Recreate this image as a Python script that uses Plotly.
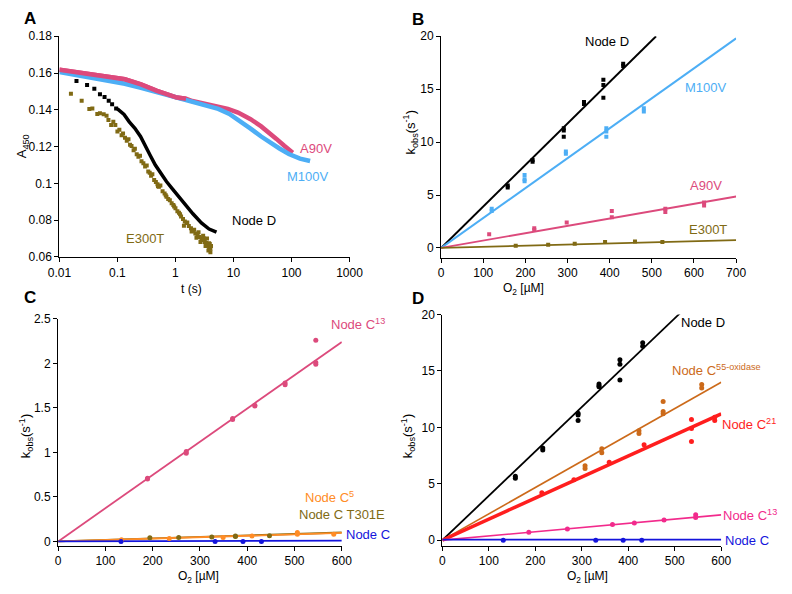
import plotly.graph_objects as go

# ---------------- Panel A data (t in s, A450) ----------------
a90v_t = [0.01, 0.0197, 0.0373, 0.0706, 0.134, 0.254, 0.48, 1.06, 1.52, 1.95, 3.7, 5.47, 8.0, 12.0, 19.7, 30.0, 42.0, 55.0, 75.0, 105.0]
a90v_A = [0.1618, 0.1605, 0.1593, 0.1582, 0.1566, 0.1538, 0.1503, 0.1467, 0.1460, 0.1448, 0.1428, 0.1419, 0.1405, 0.1385, 0.1349, 0.1310, 0.1275, 0.1242, 0.1205, 0.1167]

m100v_t = [0.01, 0.0197, 0.0373, 0.0706, 0.134, 0.254, 0.48, 1.06, 1.52, 2.5, 3.7, 5.47, 8.5, 13.0, 19.7, 30.0, 45.0, 62.0, 90.0, 140.0, 209.0]
m100v_A = [0.1605, 0.1590, 0.1573, 0.1556, 0.1542, 0.1520, 0.1496, 0.1467, 0.1455, 0.1435, 0.1422, 0.1405, 0.1378, 0.1340, 0.1298, 0.1255, 0.1215, 0.1190, 0.1160, 0.1135, 0.1122]

noded_dot_t = [0.0197, 0.030, 0.040, 0.050, 0.060, 0.0708, 0.081, 0.095]
noded_dot_A = [0.1557, 0.1535, 0.1515, 0.1485, 0.1470, 0.1450, 0.1430, 0.1407]
noded_t = [0.1, 0.13, 0.16, 0.2, 0.25, 0.3, 0.37, 0.45, 0.55, 0.7, 0.9, 1.1, 1.4, 2.0, 2.8, 3.8, 5.1]
noded_A = [0.1405, 0.1375, 0.1335, 0.1300, 0.1255, 0.1210, 0.1150, 0.1100, 0.1055, 0.1010, 0.0968, 0.0935, 0.0890, 0.0835, 0.0785, 0.0752, 0.0735]

e300t_t = [0.0158, 0.0242, 0.0328, 0.037, 0.045, 0.05, 0.058, 0.065, 0.07, 0.078, 0.085, 0.092, 0.1, 0.108,
           0.118, 0.125, 0.135, 0.145, 0.155, 0.165, 0.175, 0.19, 0.2, 0.215, 0.23, 0.245, 0.26, 0.28, 0.3,
           0.32, 0.34, 0.36, 0.38, 0.4, 0.43, 0.46, 0.49, 0.52, 0.55, 0.6, 0.65, 0.7, 0.75, 0.8, 0.86, 0.92,
           1.0, 1.08, 1.15, 1.25, 1.35, 1.45, 1.55, 1.7, 1.85, 2.0, 2.2, 2.4, 2.6, 2.8, 3.0, 3.2, 3.4, 3.6,
           3.8, 4.0, 3.9, 3.5, 3.0, 2.5, 4.1, 3.7, 2.1, 1.6, 1.2, 0.95, 0.68, 0.5,
           2.3, 2.7, 3.3, 3.8, 4.0, 1.9, 1.4, 3.1]
e300t_A = [0.1487, 0.1450, 0.1405, 0.1408, 0.1378, 0.1382, 0.1376, 0.1368, 0.1345, 0.1318, 0.1335, 0.1318, 0.1282, 0.1292,
           0.1262, 0.1272, 0.1248, 0.1232, 0.1240, 0.1210, 0.1203, 0.1180, 0.1188, 0.1158, 0.1145, 0.1150, 0.1120, 0.1110, 0.1092,
           0.1098, 0.1065, 0.1058, 0.1042, 0.1050, 0.1018, 0.1008, 0.0995, 0.0982, 0.0988, 0.0958, 0.0945, 0.0928, 0.0915, 0.0908, 0.0892, 0.0882,
           0.0865, 0.0848, 0.0840, 0.0820, 0.0806, 0.0793, 0.0785, 0.0768, 0.0756, 0.0742, 0.0728, 0.0720, 0.0708, 0.0700, 0.0692, 0.0682, 0.0676, 0.0662,
           0.0652, 0.0645, 0.0670, 0.0700, 0.0715, 0.0735, 0.0660, 0.0635, 0.0748, 0.0788, 0.0832, 0.0875, 0.0935, 0.0985,
           0.0705, 0.0682, 0.0660, 0.0675, 0.0625, 0.0738, 0.0770, 0.0700]

# ---------------- Panel B data (O2 uM, kobs s^-1) ----------------
b_noded_x = [158, 158, 217, 217, 291, 291, 291, 339, 339, 385, 385, 385, 432, 432]
b_noded_y = [5.7, 5.9, 8.15, 8.3, 11.1, 10.5, 11.3, 13.8, 13.6, 15.9, 15.4, 14.2, 17.4, 17.2]
b_noded_fit_x = [0, 510]
b_noded_fit_y = [0, 20.0]

b_m100v_x = [120, 120, 198, 198, 198, 296, 296, 392, 392, 392, 481, 481]
b_m100v_y = [3.7, 3.5, 6.9, 6.5, 6.3, 8.9, 9.1, 11.3, 11.0, 10.5, 13.2, 12.9]
b_m100v_fit_x = [0, 700]
b_m100v_fit_y = [0, 19.8]

b_a90v_x = [114, 221, 221, 298, 405, 405, 532, 532, 624, 624]
b_a90v_y = [1.3, 1.85, 1.7, 2.4, 3.5, 2.9, 3.7, 3.4, 4.3, 4.0]
b_a90v_fit_x = [0, 700]
b_a90v_fit_y = [0, 4.86]

b_e300t_x = [177, 254, 317, 389, 460, 525]
b_e300t_y = [0.2, 0.3, 0.4, 0.55, 0.6, 0.55]
b_e300t_fit_x = [0, 700]
b_e300t_fit_y = [0, 0.74]

# ---------------- Panel C data ----------------
c_c13_x = [189, 189, 271, 271, 369, 369, 416, 416, 480, 480, 545, 545, 545]
c_c13_y = [0.71, 0.70, 0.99, 1.01, 1.37, 1.38, 1.53, 1.52, 1.78, 1.76, 2.26, 2.01, 1.99]
c_c13_fit_x = [0, 600]
c_c13_fit_y = [0, 2.24]

c_c5_x = [134, 235, 349, 410, 506, 506, 583]
c_c5_y = [0.02, 0.033, 0.044, 0.06, 0.10, 0.08, 0.08]
c_c5_fit_x = [0, 600]
c_c5_fit_y = [0, 0.095]

c_t301e_x = [194, 255, 325, 375, 375, 447]
c_t301e_y = [0.04, 0.045, 0.05, 0.055, 0.06, 0.065]
c_t301e_fit_x = [0, 600]
c_t301e_fit_y = [0, 0.10]

c_nodec_x = [133, 332, 391, 430]
c_nodec_y = [0.0, 0.0, 0.0, 0.0]
c_nodec_fit_x = [0, 600]
c_nodec_fit_y = [0.0, 0.01]

# ---------------- Panel D data ----------------
d_noded_x = [157, 157, 216, 216, 292, 292, 292, 337, 337, 337, 382, 382, 382, 431, 431]
d_noded_y = [5.66, 5.5, 8.17, 8.0, 11.1, 10.6, 11.25, 13.85, 13.6, 13.7, 16.0, 15.6, 14.2, 17.5, 17.2]
d_noded_fit_x = [0, 511]
d_noded_fit_y = [0, 20.1]

d_c55_x = [307, 307, 343, 343, 423, 423, 475, 475, 475, 558, 558]
d_c55_y = [6.6, 6.35, 8.1, 7.75, 9.7, 9.45, 12.3, 11.4, 11.2, 13.8, 13.5]
d_c55_fit_x = [0, 600]
d_c55_fit_y = [0, 14.0]

d_c21_x = [214, 283, 359, 434, 536, 536, 536, 586, 586]
d_c21_y = [4.2, 5.35, 6.9, 8.45, 10.7, 9.9, 8.75, 10.9, 10.6]
d_c21_fit_x = [0, 600]
d_c21_fit_y = [0, 11.2]

d_c13_x = [186, 269, 366, 413, 477, 545, 545]
d_c13_y = [0.7, 1.0, 1.38, 1.53, 1.79, 2.25, 2.0]
d_c13_fit_x = [0, 600]
d_c13_fit_y = [0, 2.24]

d_nodec_x = [131, 330, 389, 429]
d_nodec_y = [0.0, 0.0, 0.0, 0.0]
d_nodec_fit_x = [0, 600]
d_nodec_fit_y = [0.05, 0.05]

# ---------------- colours ----------------
C_BLACK = "#000000"
C_PINK = "#DC4A7C"
C_LBLUE = "#4DAEF5"
C_OLIVE = "#806A14"
C_ORANGE = "#FF8C26"
C_BLUE = "#1414DC"
C_BORANGE = "#CC6A1A"
C_RED = "#FF1E1E"
C_HPINK = "#F22A8C"

FONT = "Liberation Sans, Arial, sans-serif"
W, H = 792, 594

fig = go.Figure()


def line(x, y, color, width, ax):
    fig.add_trace(go.Scatter(x=x, y=y, mode="lines", line=dict(color=color, width=width),
                             xaxis="x" + ax, yaxis="y" + ax, showlegend=False, hoverinfo="skip"))


def pts(x, y, color, size, ax, symbol="square"):
    fig.add_trace(go.Scatter(x=x, y=y, mode="markers",
                             marker=dict(color=color, size=size, symbol=symbol, line=dict(width=0)),
                             xaxis="x" + ax, yaxis="y" + ax, showlegend=False, hoverinfo="skip"))


# Panel A
line(a90v_t, a90v_A, C_PINK, 4.5, "")
line(m100v_t, m100v_A, C_LBLUE, 4.5, "")
line(a90v_t[:9], a90v_A[:9], C_PINK, 4.5, "")
pts(e300t_t, e300t_A, C_OLIVE, 4, "")
pts(noded_dot_t, noded_dot_A, C_BLACK, 4, "")
line(noded_t, noded_A, C_BLACK, 3.5, "")

# Panel B
line(b_noded_fit_x, b_noded_fit_y, C_BLACK, 2, "2")
line(b_m100v_fit_x, b_m100v_fit_y, C_LBLUE, 2, "2")
line(b_a90v_fit_x, b_a90v_fit_y, C_PINK, 1.8, "2")
line(b_e300t_fit_x, b_e300t_fit_y, C_OLIVE, 1.8, "2")
pts(b_noded_x, b_noded_y, C_BLACK, 4, "2")
pts(b_m100v_x, b_m100v_y, C_LBLUE, 4, "2")
pts(b_a90v_x, b_a90v_y, C_PINK, 4, "2")
pts(b_e300t_x, b_e300t_y, C_OLIVE, 4, "2")

# Panel C
line(c_c13_fit_x, c_c13_fit_y, C_PINK, 1.8, "3")
line(c_t301e_fit_x, c_t301e_fit_y, C_OLIVE, 1.8, "3")
line(c_c5_fit_x, c_c5_fit_y, C_ORANGE, 1.8, "3")
line(c_nodec_fit_x, c_nodec_fit_y, C_BLUE, 1.8, "3")
pts(c_c13_x, c_c13_y, C_PINK, 5, "3", "circle")
pts(c_t301e_x, c_t301e_y, C_OLIVE, 5, "3", "circle")
pts(c_c5_x, c_c5_y, C_ORANGE, 5, "3", "circle")
pts(c_nodec_x, c_nodec_y, C_BLUE, 5, "3", "circle")

# Panel D
line(d_noded_fit_x, d_noded_fit_y, C_BLACK, 1.8, "4")
line(d_c55_fit_x, d_c55_fit_y, C_BORANGE, 1.6, "4")
line(d_c21_fit_x, d_c21_fit_y, C_RED, 3.5, "4")
line(d_c13_fit_x, d_c13_fit_y, C_HPINK, 1.6, "4")
line(d_nodec_fit_x, d_nodec_fit_y, C_BLUE, 1.8, "4")
pts(d_noded_x, d_noded_y, C_BLACK, 5, "4", "circle")
pts(d_c55_x, d_c55_y, C_BORANGE, 5, "4", "circle")
pts(d_c21_x, d_c21_y, C_RED, 5, "4", "circle")
pts(d_c13_x, d_c13_y, C_HPINK, 5, "4", "circle")
pts(d_nodec_x, d_nodec_y, C_BLUE, 5, "4", "circle")


def dom_x(l, r):
    return [l / W, r / W]


def dom_y(top, bottom):
    return [1 - bottom / H, 1 - top / H]


TICKFONT = dict(family=FONT, size=12, color="black")
axis_common = dict(showline=True, linecolor="black", linewidth=1.3, mirror=False, ticks="outside",
                   ticklen=4, tickwidth=1.3, tickcolor="black", showgrid=False, zeroline=False,
                   tickfont=TICKFONT)

fig.update_layout(
    width=W, height=H, margin=dict(l=0, r=0, t=0, b=0),
    paper_bgcolor="white", plot_bgcolor="white",
    font=dict(family=FONT, size=12, color="black"),
    xaxis=dict(domain=dom_x(49, 349), type="log", range=[-2, 3], anchor="y",
               tickvals=[0.01, 0.1, 1, 10, 100, 1000], ticktext=["0.01", "0.1", "1", "10", "100", "1000"], **axis_common),
    yaxis=dict(domain=dom_y(30, 256), range=[0.06, 0.18], anchor="x",
               tickvals=[0.06, 0.08, 0.1, 0.12, 0.14, 0.16, 0.18], **axis_common),
    xaxis2=dict(domain=dom_x(443.7, 748.7), range=[0, 700], anchor="y2",
                tickvals=[0, 100, 200, 300, 400, 500, 600, 700], **axis_common),
    yaxis2=dict(domain=dom_y(30, 256.7), range=[-0.92, 20], anchor="x2",
                tickvals=[0, 5, 10, 15, 20], **axis_common),
    xaxis3=dict(domain=dom_x(47.7, 341), range=[0, 600], anchor="y3",
                tickvals=[0, 100, 200, 300, 400, 500, 600], **axis_common),
    yaxis3=dict(domain=dom_y(319.3, 551.7), range=[-0.048, 2.5], anchor="x3",
                tickvals=[0, 0.5, 1, 1.5, 2, 2.5], **axis_common),
    xaxis4=dict(domain=dom_x(445, 733.3), range=[0, 600], anchor="y4",
                tickvals=[0, 100, 200, 300, 400, 500, 600], **axis_common),
    yaxis4=dict(domain=dom_y(315, 551.7), range=[-0.49, 20], anchor="x4",
                tickvals=[0, 5, 10, 15, 20], **axis_common),
)

ann = []


def txt(x, y, s, color="black", size=13, angle=0, bold=False):
    ann.append(dict(x=x / W, y=1 - y / H, xref="paper", yref="paper", text=("<b>%s</b>" % s) if bold else s,
                    showarrow=False, textangle=angle, xanchor="center", yanchor="middle",
                    font=dict(family=FONT, size=size, color=color)))


# panel letters
txt(19, 12, "A", size=17, bold=True)
txt(420, 13, "B", size=17, bold=True)
txt(19, 298, "C", size=17, bold=True)
txt(420, 299, "D", size=17, bold=True)

# axis titles
txt(186, 289, "t (s)", size=12)
txt(529, 289, "O<sub>2</sub> [µM]", size=12)
txt(193, 584, "O<sub>2</sub> [µM]", size=12)
txt(595, 584, "O<sub>2</sub> [µM]", size=12)
txt(11, 143, "A<sub>450</sub>", size=13, angle=-90)
txt(412, 128, "k<sub>obs</sub>(s<sup>-1</sup>)", size=13, angle=-90)
txt(14, 440, "k<sub>obs</sub>(s<sup>-1</sup>)", size=13, angle=-90)
txt(409, 440, "k<sub>obs</sub>(s<sup>-1</sup>)", size=13, angle=-90)

# series labels panel A
txt(314, 145, "A90V", C_PINK)
txt(306, 174, "M100V", C_LBLUE)
txt(250, 219, "Node D", C_BLACK)
txt(138, 237, "E300T", C_OLIVE)
# panel B
txt(615, 35, "Node D", C_BLACK)
txt(718, 82, "M100V", C_LBLUE)
txt(718, 183, "A90V", C_PINK)
txt(720, 228, "E300T", C_OLIVE)
# panel C
txt(358, 325, "Node C<sup>13</sup>", C_PINK)
txt(328, 502, "Node C<sup>5</sup>", C_ORANGE)
txt(341, 520, "Node C T301E", C_OLIVE)
txt(368, 540, "Node C", C_BLUE)
# panel D
txt(714, 323, "Node D", C_BLACK)
txt(728, 372, "Node C<sup>55-oxidase</sup>", C_BORANGE)
txt(762, 427, "Node C<sup>21</sup>", C_RED)
txt(763, 520, "Node C<sup>13</sup>", C_HPINK)
txt(760, 546, "Node C", C_BLUE)

fig.update_layout(annotations=ann)
fig.write_html("out.html")
